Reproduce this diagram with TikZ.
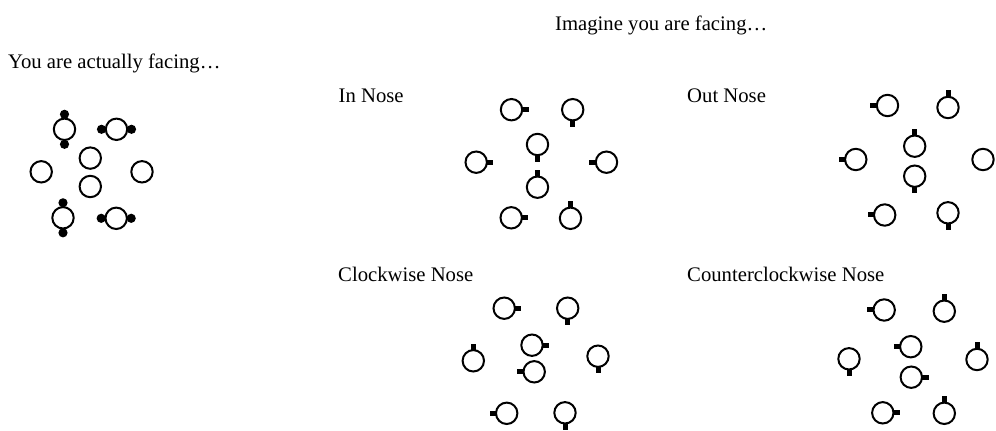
\documentclass[tikz,border=0pt]{standalone}
\usepackage{fontspec}
\setmainfont{Liberation Serif}
\usepackage{tikz}
\usetikzlibrary{positioning}

\begin{document}
\begin{tikzpicture}[x=1pt,y=1pt,
  person/.style={circle,draw,line width=2pt,minimum size=21.4pt,inner sep=0pt,outer sep=0pt},
  nosestub/.style={line width=5pt,line cap=butt},
  lbl/.style={anchor=base west,inner sep=0pt,font=\fontsize{20.7}{25}\selectfont}]
  \useasboundingbox (0,0) rectangle (996,431);
  \node[lbl] (imagine) at (555,400) {Imagine you are facing…};
  \node[lbl] (actual) at (8,362.7) {You are actually facing…};
  \node[lbl] (innose) at (338.5,328.7) {In Nose};
  \node[lbl] (outnose) at (687,328.7) {Out Nose};
  \node[lbl] (cwnose) at (338,149.3) {Clockwise Nose};
  \node[lbl] (ccwnose) at (687,149.3) {Counterclockwise Nose};
  % actually facing
  \node[person] (a1) at (64.5,301.7) {};
  \node[person] (a2) at (116.5,301.7) {};
  \node[person] (a3) at (90.3,272.9) {};
  \node[person] (a4) at (90.3,244.5) {};
  \node[person] (a5) at (41.2,259.2) {};
  \node[person] (a6) at (142,259.2) {};
  \node[person] (a7) at (63,213.2) {};
  \node[person] (a8) at (116.2,212.7) {};
  \fill (a1) ++(0,15) circle (4.6);
  \fill (a1) ++(0,-15) circle (4.6);
  \fill (a2) ++(-15,0) circle (4.6);
  \fill (a2) ++(15,0) circle (4.6);
  \fill (a7) ++(0,15) circle (4.6);
  \fill (a7) ++(0,-15) circle (4.6);
  \fill (a8) ++(-15,0) circle (4.6);
  \fill (a8) ++(15,0) circle (4.6);
  % in nose
  \node[person] (i1) at (511.5,321.3) {};
  \node[person] (i2) at (572.7,321.3) {};
  \node[person] (i3) at (537.5,286.5) {};
  \node[person] (i4) at (537.5,243.8) {};
  \node[person] (i5) at (476.2,268.8) {};
  \node[person] (i6) at (606.5,268.8) {};
  \node[person] (i7) at (511.2,213.2) {};
  \node[person] (i8) at (570.5,212.7) {};
  \draw[nosestub] (i1.east) -- ++(6.5,0);
  \draw[nosestub] (i2.south) -- ++(0,-6.5);
  \draw[nosestub] (i3.south) -- ++(0,-6.5);
  \draw[nosestub] (i4.north) -- ++(0,6.5);
  \draw[nosestub] (i5.east) -- ++(6.5,0);
  \draw[nosestub] (i6.west) -- ++(-6.5,0);
  \draw[nosestub] (i7.east) -- ++(6.5,0);
  \draw[nosestub] (i8.north) -- ++(0,6.5);
  % out nose
  \node[person] (o1) at (887.5,325.5) {};
  \node[person] (o2) at (948,323.5) {};
  \node[person] (o3) at (914.7,284.8) {};
  \node[person] (o4) at (914.7,254.8) {};
  \node[person] (o5) at (855.8,271.5) {};
  \node[person] (o6) at (983,271.5) {};
  \node[person] (o7) at (884.7,216) {};
  \node[person] (o8) at (948,218.2) {};
  \draw[nosestub] (o1.west) -- ++(-6.5,0);
  \draw[nosestub] (o2.north) -- ++(0,6.5);
  \draw[nosestub] (o3.north) -- ++(0,6.5);
  \draw[nosestub] (o4.south) -- ++(0,-6.5);
  \draw[nosestub] (o5.west) -- ++(-6.5,0);
  \draw[nosestub] (o7.west) -- ++(-6.5,0);
  \draw[nosestub] (o8.south) -- ++(0,-6.5);
  % clockwise nose
  \node[person] (c1) at (504.2,122.8) {};
  \node[person] (c2) at (567.7,122.8) {};
  \node[person] (c3) at (532,85.8) {};
  \node[person] (c4) at (534.2,59.2) {};
  \node[person] (c5) at (473.3,70.2) {};
  \node[person] (c6) at (598,74.8) {};
  \node[person] (c7) at (506.7,17.7) {};
  \node[person] (c8) at (565,18.2) {};
  \draw[nosestub] (c1.east) -- ++(6.5,0);
  \draw[nosestub] (c2.south) -- ++(0,-6.5);
  \draw[nosestub] (c3.east) -- ++(6.5,0);
  \draw[nosestub] (c4.west) -- ++(-6.5,0);
  \draw[nosestub] (c5.north) -- ++(0,6.5);
  \draw[nosestub] (c6.south) -- ++(0,-6.5);
  \draw[nosestub] (c7.west) -- ++(-6.5,0);
  \draw[nosestub] (c8.south) -- ++(0,-6.5);
  % counterclockwise nose
  \node[person] (k1) at (884.2,121) {};
  \node[person] (k2) at (944.3,119.8) {};
  \node[person] (k3) at (910.8,84.3) {};
  \node[person] (k4) at (911.3,53.8) {};
  \node[person] (k5) at (849,72.2) {};
  \node[person] (k6) at (977,71.5) {};
  \node[person] (k7) at (882.8,18.2) {};
  \node[person] (k8) at (944.3,17.7) {};
  \draw[nosestub] (k1.west) -- ++(-6.5,0);
  \draw[nosestub] (k2.north) -- ++(0,6.5);
  \draw[nosestub] (k3.west) -- ++(-6.5,0);
  \draw[nosestub] (k4.east) -- ++(6.5,0);
  \draw[nosestub] (k5.south) -- ++(0,-6.5);
  \draw[nosestub] (k6.north) -- ++(0,6.5);
  \draw[nosestub] (k7.east) -- ++(6.5,0);
  \draw[nosestub] (k8.north) -- ++(0,6.5);
\end{tikzpicture}
\end{document}
